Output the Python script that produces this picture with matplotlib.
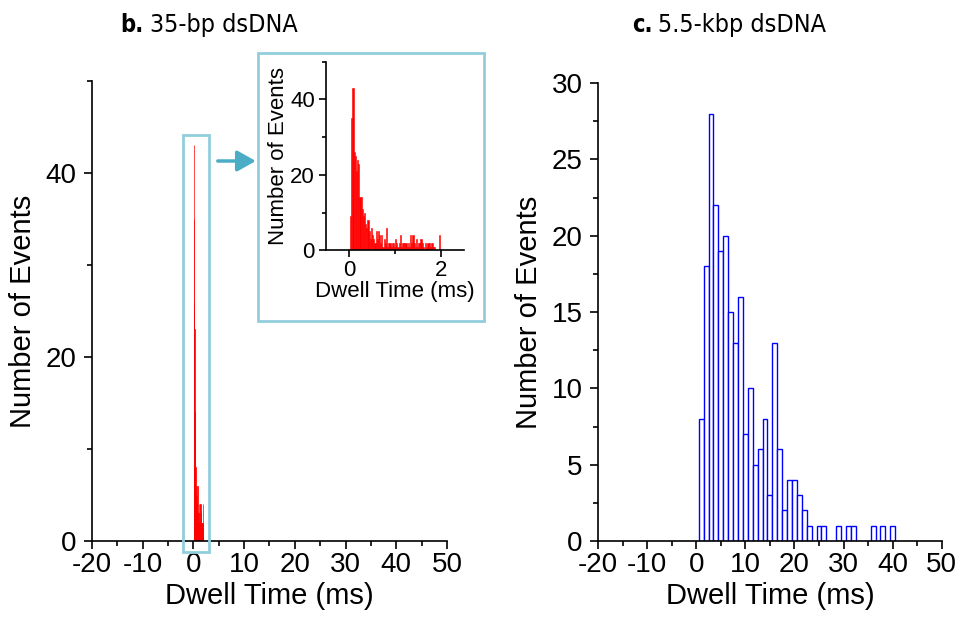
import numpy as np
import matplotlib
matplotlib.use("Agg")
import matplotlib.pyplot as plt
from matplotlib.patches import Rectangle, FancyArrowPatch
from matplotlib.ticker import MultipleLocator

plt.rcParams['font.family'] = ['Liberation Sans', 'DejaVu Sans']
plt.rcParams['axes.unicode_minus'] = False

# ---- data: 35-bp dsDNA dwell-time histogram (bin width 0.025 ms, first bin starts 0.025 ms)
short_bin_start = 0.025
short_bin_width = 0.025
short_counts = [9, 35, 43, 26, 25, 21, 24, 23, 14, 14, 11, 9, 10, 7, 6, 8, 5, 3, 6, 4,
                3, 2, 5, 3, 5, 4, 2, 4, 1, 3, 2, 6, 1, 2, 2, 1, 2, 2, 1, 3,
                2, 1, 2, 4, 1, 2, 2, 2, 2, 1, 2, 1, 4, 2, 4, 2, 1, 3, 1, 2,
                2, 3, 2, 1, 0, 2, 1, 2, 2, 1, 2, 2, 1, 1, 0, 0, 0, 4, 0]

# ---- data: 5.5-kbp dsDNA dwell-time histogram (1-ms bins, centres in ms)
long_centers = [1, 2, 3, 4, 5, 6, 7, 8, 9, 10, 11, 12, 13, 14, 15, 16, 17, 18, 19, 20,
                21, 22, 23, 25, 26, 29, 31, 32, 36, 38, 40]
long_counts = [8, 18, 28, 22, 19, 20, 15, 13, 16, 7, 10, 5, 6, 8, 3, 13, 6, 2, 4, 4,
               3, 2, 1, 1, 1, 1, 1, 1, 1, 1, 1]

short_centers = short_bin_start + short_bin_width * (np.arange(len(short_counts)) + 0.5)

fig = plt.figure(figsize=(9.63, 6.25), dpi=100)

box_color = '#92CDDC'
arrow_color = '#4BACC6'


def style(ax, fs=20, major=6, minor=3.5, ypad=5):
    ax.spines['top'].set_visible(False)
    ax.spines['right'].set_visible(False)
    for s in ('left', 'bottom'):
        ax.spines[s].set_linewidth(1.2)
    ax.tick_params(which='major', direction='out', length=major, width=1.2, labelsize=fs, pad=2)
    ax.tick_params(which='minor', direction='out', length=minor, width=1.2)
    ax.tick_params(axis='y', which='major', pad=ypad)


# ---- left panel
axL = fig.add_axes([0.0955, 0.1344, 0.3687, 0.736])
axL.bar(short_centers, short_counts, width=short_bin_width, color='#FF0000',
        edgecolor='#FF0000', linewidth=0.5)
axL.set_xlim(-20, 50)
axL.set_ylim(0, 50)
axL.xaxis.set_major_locator(MultipleLocator(10))
axL.xaxis.set_minor_locator(MultipleLocator(5))
axL.yaxis.set_major_locator(MultipleLocator(20))
axL.yaxis.set_minor_locator(MultipleLocator(10))
style(axL)
axL.set_xlabel('Dwell Time (ms)', fontsize=21, labelpad=3)
axL.set_ylabel('Number of Events', fontsize=21, labelpad=6)
axL.add_patch(Rectangle((-2.1, -1.2), 5.1, 45.3, fill=False, edgecolor=box_color,
                        linewidth=2.0, clip_on=False, zorder=5))

# ---- right panel
axR = fig.add_axes([0.621, 0.1344, 0.357, 0.7328])
axR.bar(long_centers, long_counts, width=1.0, facecolor='white', edgecolor='#0000FF', linewidth=1.0)
axR.set_xlim(-20, 50)
axR.set_ylim(0, 30)
axR.xaxis.set_major_locator(MultipleLocator(10))
axR.xaxis.set_minor_locator(MultipleLocator(5))
axR.yaxis.set_major_locator(MultipleLocator(5))
axR.yaxis.set_minor_locator(MultipleLocator(2.5))
style(axR)
axR.set_xlabel('Dwell Time (ms)', fontsize=21, labelpad=3)
axR.set_ylabel('Number of Events', fontsize=21, labelpad=6)

# ---- inset frame and arrow
frame = Rectangle((0.268, 0.4864), 0.2347, 0.4288, transform=fig.transFigure,
                  facecolor='white', edgecolor=box_color, linewidth=2.0, zorder=3)
fig.patches.append(frame)
fig.add_artist(FancyArrowPatch(
    (0.2233, 0.7424), (0.2685, 0.7424), transform=fig.transFigure,
    arrowstyle='-|>,head_length=0.8,head_width=0.45', mutation_scale=14,
    color=arrow_color, linewidth=2.5, zorder=6))

# ---- inset axes
axI = fig.add_axes([0.3385, 0.5995, 0.1436, 0.3018])
axI.set_zorder(10)
axI.bar(short_centers, short_counts, width=short_bin_width, color='#FF0000',
        edgecolor='#FF0000', linewidth=0.4)
axI.set_xlim(-0.5, 2.5)
axI.set_ylim(0, 50)
axI.xaxis.set_major_locator(MultipleLocator(2))
axI.xaxis.set_minor_locator(MultipleLocator(1))
axI.yaxis.set_major_locator(MultipleLocator(20))
axI.yaxis.set_minor_locator(MultipleLocator(10))
style(axI, fs=16, major=5, minor=3, ypad=3)
axI.patch.set_alpha(0)
axI.set_xlabel('Dwell Time (ms)', fontsize=16, labelpad=0)
axI.set_ylabel('Number of Events', fontsize=16, labelpad=1)

# ---- panel titles
tfam = 'DejaVu Sans'
fig.text(0.1245, 0.96, 'b.', fontsize=17, fontweight='bold', family=tfam,
         fontstretch='condensed', va='center')
fig.text(0.1555, 0.96, '35-bp dsDNA', fontsize=18, family=tfam,
         fontstretch='condensed', va='center')
fig.text(0.6565, 0.96, 'c.', fontsize=17, fontweight='bold', family=tfam,
         fontstretch='condensed', va='center')
fig.text(0.6835, 0.96, '5.5-kbp dsDNA', fontsize=18, family=tfam,
         fontstretch='condensed', va='center')

fig.savefig('out.png', dpi=100)
